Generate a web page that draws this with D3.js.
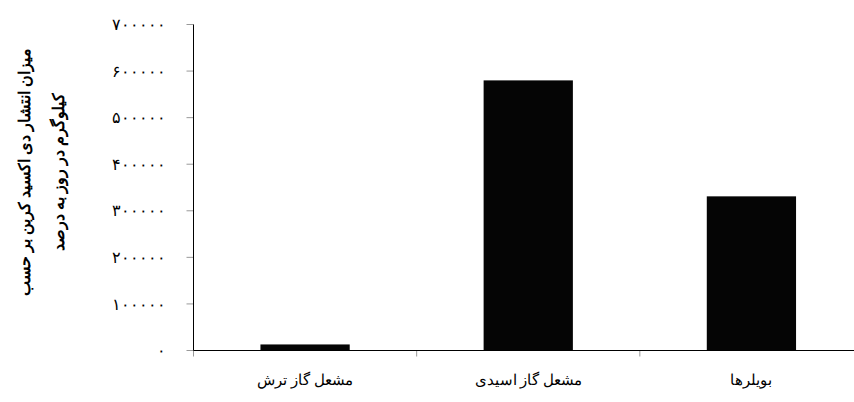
<!DOCTYPE html>
<html>
<head>
<meta charset="utf-8">
<script src="https://cdn.jsdelivr.net/npm/d3@7"></script>
<style>
  body { margin: 0; background: #fff; }
  text { font-family: "Liberation Serif", "DejaVu Serif", serif; fill: #000; }
</style>
</head>
<body>
<svg width="854" height="402"></svg>
<script>
// chart data
var categories = ["مشعل گاز ترش", "مشعل گاز اسیدی", "بویلرها"];
var values = [13000, 580000, 331000];
var yTicks = [0, 100000, 200000, 300000, 400000, 500000, 600000, 700000];
var yTitle = ["میزان انتشار دی اکسید کربن بر حسب", "کیلوگرم در روز به درصد"];

var persianDigits = "۰۱۲۳۴۵۶۷۸۹";
function toPersian(n) {
    return String(n).replace(/[0-9]/g, function(c) { return persianDigits[+c]; });
}

var svg = d3.select("svg"),
    plotLeft = 193.5, plotTop = 24.5, plotBottom = 350.5, plotRight = 863;

var x = d3.scaleBand()
    .domain(categories)
    .range([plotLeft, plotRight])
    .paddingInner(0.6)
    .paddingOuter(0.3);

var y = d3.scaleLinear().domain([0, 700000]).range([plotBottom, plotTop]);

// y ticks + labels
svg.selectAll(".ytick")
    .data(yTicks)
  .enter().append("line")
    .attr("x1", plotLeft - 7).attr("x2", plotLeft)
    .attr("y1", function(d) { return y(d); })
    .attr("y2", function(d) { return y(d); })
    .attr("stroke", "#999");

svg.selectAll(".ylab")
    .data(yTicks)
  .enter().append("text")
    .attr("x", 166)
    .attr("y", function(d) { return y(d); })
    .attr("dy", "0.35em")
    .attr("text-anchor", "end")
    .style("font-size", "16px")
    .style("letter-spacing", "1px")
    .text(function(d) { return toPersian(d); });

// bars
svg.selectAll(".bar")
    .data(values)
  .enter().append("rect")
    .attr("x", function(d, i) { return x(categories[i]); })
    .attr("y", function(d) { return y(d); })
    .attr("width", x.bandwidth())
    .attr("height", function(d) { return plotBottom - y(d); })
    .attr("fill", "#050505");

// category separators
var gap = x.step() - x.bandwidth();
svg.selectAll(".xtick")
    .data(categories)
  .enter().append("line")
    .attr("x1", function(d) { return x(d) - gap / 2; })
    .attr("x2", function(d) { return x(d) - gap / 2; })
    .attr("y1", plotBottom).attr("y2", plotBottom + 6)
    .attr("stroke", "#999");

// axis lines
svg.append("line")
    .attr("x1", plotLeft).attr("x2", plotLeft)
    .attr("y1", plotTop).attr("y2", plotBottom)
    .attr("stroke", "#000");
svg.append("line")
    .attr("x1", plotLeft).attr("x2", 854)
    .attr("y1", plotBottom).attr("y2", plotBottom)
    .attr("stroke", "#000");

// category labels
svg.selectAll(".xlab")
    .data(categories)
  .enter().append("text")
    .attr("x", function(d) { return x(d) + x.bandwidth() / 2; })
    .attr("y", 385)
    .attr("text-anchor", "middle")
    .style("font-size", "15px")
    .text(function(d) { return d; });

// y title, two rotated lines
svg.selectAll(".ytitle")
    .data(yTitle)
  .enter().append("text")
    .attr("transform", function(d, i) { return "translate(" + (30 + i * 34) + ",172) rotate(-90)"; })
    .attr("text-anchor", "middle")
    .style("font-size", "16px")
    .style("font-weight", "bold")
    .text(function(d) { return d; });
</script>
</body>
</html>
